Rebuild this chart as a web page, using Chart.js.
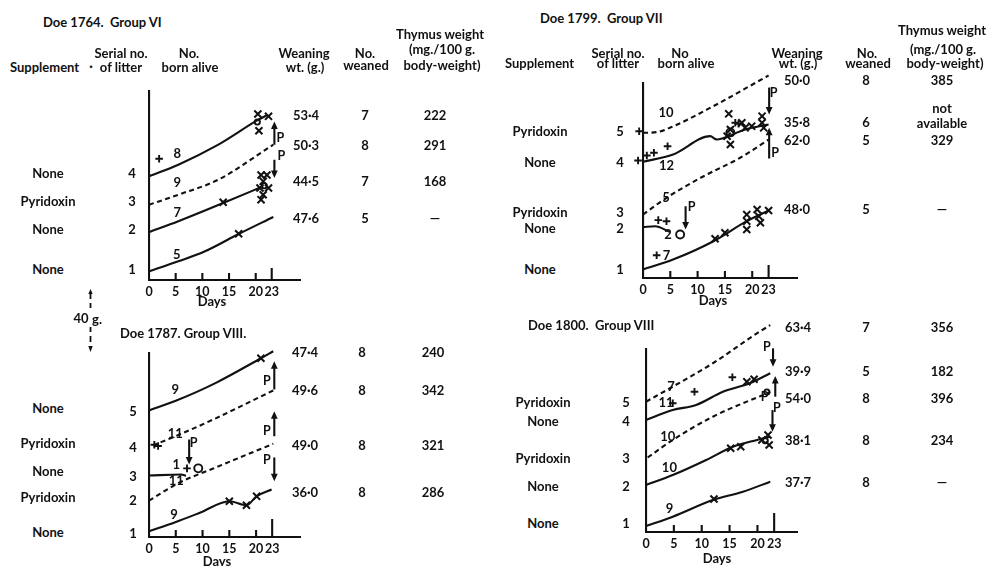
<!DOCTYPE html>
<html><head><meta charset="utf-8">
<script src="https://cdn.jsdelivr.net/npm/chart.js@4.4.1/dist/chart.umd.min.js"></script>
<style>
html,body{margin:0;padding:0;background:#fff;}
#page{position:relative;width:991px;height:566px;overflow:hidden;background:#fff;font-family:Lato,"Open Sans",sans-serif;font-weight:700;color:#111;}
.t{position:absolute;white-space:pre;font-size:13px;line-height:1;}
.c{transform:translate(-50%,-50%);text-align:center;}
.l{transform:translate(0,-50%);}
canvas{position:absolute;}
</style></head><body><div id="page"></div>
<script>
// ================= DATA =================
const xTicks = [0, 5, 10, 15, 20, 23];

// ---- Doe 1764, Group VI (litters 1..4) ----
const d1764Supp   = ['None', 'None', 'Pyridoxin', 'None'];
const d1764Serial = [1, 2, 3, 4];
const d1764Born   = [5, 7, 9, 8];
const d1764Wean   = ['47·6', '44·5', '50·3', '53·4'];
const d1764Weaned = ['5', '7', '8', '7'];
const d1764Thymus = ['—', '168', '291', '222'];
const d1764Pyr    = [false, false, true, false];
const d1764L1 = [[0,6.7],[5.5,14.4],[10.5,22.1],[16.8,35.4],[23.3,48.5]];
const d1764L2 = [[0,36.9],[5.5,45.2],[13.9,59.2],[21.4,72.1]];
const d1764L3 = [[0,57.9],[5.5,65.6],[13,77.2],[23.3,104.1]];
const d1764L4 = [[0,79.8],[5.5,88.7],[13,104.1],[20.5,123.3],[22.1,126.7]];
const d1764Cross = [[16.8,35.6],[13.9,59.8],[21,80.8],[22.1,80.8],[21.4,75.9],[20.8,70.8],[22.4,70.8],[21.4,65.6],[21,61.8],[20.4,127.7],[22.4,125.9],[20.6,114.8]];
const d1764Plus  = [[1.9,93.3]];
const d1764Circ  = [[20.3,121.5],[21.6,72.5]];
const d1764Arrows = [[23.5,104,122],[23.5,92.5,78.5]];
const d1764PLab   = [[24.6,109],[24.8,95.4]];
const d1764BornAt = [[5.2,19.2],[5.3,51.3],[5.3,74.8],[5.3,97.4]];

// ---- Doe 1787, Group VIII (litters 1..5) ----
const d1787Supp   = ['None', 'Pyridoxin', 'None', 'Pyridoxin', 'None'];
const d1787Serial = [1, 2, 3, 4, 5];
const d1787Born   = [9, 11, 1, 11, 9];
const d1787Wean   = ['36·0', '49·0', '', '49·6', '47·4'];
const d1787Weaned = ['8', '8', '', '8', '8'];
const d1787Thymus = ['286', '321', '', '342', '240'];
const d1787Pyr    = [false, true, false, true, false];
const d1787L1 = [[0,4.5],[4.9,11.4],[9.5,18.6],[15,27.5],[18.2,24.4],[20.1,31.3],[22.9,36.5]];
const d1787L2 = [[0,28],[5.7,41.9],[12,52.7],[23.2,71.7]];
const d1787L3 = [[0,47.3],[6,48.1],[6.9,47]];
const d1787L4 = [[0.7,70.4],[5.7,78.8],[12,90.4],[23.2,112.7]];
const d1787L5 = [[0,97.3],[5,104.8],[12.5,118.6],[20.9,137.5],[23.2,142.9]];
const d1787Cross = [[20.9,137.5],[15,27.5],[18.2,24.4],[20.1,31.3]];
const d1787Plus  = [[-1.2,52.8],[-1.3,70.4],[1,71],[1.7,70],[-1.3,8.3],[7.1,52.8]];
const d1787Circ  = [[9.2,52.8]];
const d1787Arrows = [[7.5,75,55.8],[23.4,113.5,135.2],[23.4,77.5,96.8],[23.4,61.2,42.9]];
const d1787PLab   = [[8.35,72.5],[22,119.8],[22,81.4],[22,59]];
const d1787BornAt = [[4.65,17.3],[5.1,42.9],[5.1,55.8],[4.9,79.6],[4.9,113.5]];

// ---- Doe 1799, Group VII (litters 1..5) ----
const d1799Supp   = ['None', 'None', 'Pyridoxin', 'None', 'Pyridoxin'];
const d1799Serial = [1, 2, 3, 4, 5];
const d1799Born   = [7, 2, 5, 12, 10];
const d1799Wean   = ['48·0', '', '62·0', '35·8', '50·0'];
const d1799Weaned = ['5', '', '5', '6', '8'];
const d1799Thymus = ['—', '', '329', 'not\navailable', '385'];
const d1799Pyr    = [false, false, true, false, true];
const d1799L1 = [[0,6.5],[5.5,14.2],[12.9,28.3],[19,43.7],[23,51.9]];
const d1799L2 = [[0,39.1],[2.2,39.8],[4.9,35.5]];
const d1799L3 = [[0,48.8],[4.3,61.7],[11.1,78.3],[17.8,92.5],[23,106.5]];
const d1799L4 = [[0,89.4],[5.5,95],[12.3,109.1],[13.5,106.5],[14.5,107.3],[18.7,114.2],[23,118.1]];
const d1799L5 = [[0,111.7],[2.5,112.2],[5.6,116.8],[12.9,132.2],[23,155.8]];
const d1799Cross = [[13.2,30.2],[15,34.8],[19,48.8],[19,43.7],[19,37.3],[20.9,52.7],[21.2,47.5],[21.5,42.5],[23,51.9],
                    [15.7,126.3],[15.4,109.1],[16,102.7],[16,114.2],[18.1,119.4],[18.7,115.5],[19.9,116.8],[21.8,124.5],[21.8,119.4],[22.1,115.5]];
const d1799Plus  = [[-1.8,112.9],[-0.7,112.9],[-2,90.4],[-0.9,90.4],[0.7,94.2],[2,96.3],[4.5,101.4],[2.8,44.5],[4.3,43.7],[2.5,17.5],[16.9,119.4],[17.5,118.6]];
const d1799Circ  = [[6.8,33.5],[16,112]];
const d1799Arrows = [[23.1,146.5,125.8],[23.1,91.9,115.5],[7.8,55.2,37.3]];
const d1799PLab   = [[23.9,142.5],[24.2,96.3],[8.9,54.8]];
const d1799BornAt = [[4.3,16.8],[4.6,33.5],[4.2,61.7],[4.3,86],[4.2,127.1]];

// ---- Doe 1800, Group VIII (litters 1..5) ----
const d1800Supp   = ['None', 'None', 'Pyridoxin', 'None', 'Pyridoxin'];
const d1800Serial = [1, 2, 3, 4, 5];
const d1800Born   = [9, 10, 10, 11, 7];
const d1800Wean   = ['37·7', '38·1', '54·0', '39·9', '63·4'];
const d1800Weaned = ['8', '8', '8', '5', '7'];
const d1800Thymus = ['—', '234', '396', '182', '356'];
const d1800Pyr    = [false, false, true, false, true];
const d1800L1 = [[0,4.6],[4.8,11.8],[12,24.6],[17.4,31],[22.3,38.7]];
const d1800L2 = [[0,36.2],[4.8,43.8],[10.8,55.4],[15.6,65.6],[19.9,70.8],[22.3,73.3]];
const d1800L3 = [[0.3,57.3],[4.8,70.8],[12,88.7],[22.3,107.7]];
const d1800L4 = [[0,86.2],[4.8,93.8],[9,97.7],[13.8,107.9],[18.6,114.4],[22.3,122.1]];
const d1800L5 = [[0,100.2],[4.8,111.8],[12,129.8],[19.9,152.8],[22.3,159.2]];
const d1800Cross = [[18.1,115.6],[19.4,117.5],[15.2,64.4],[17,65.6],[20.8,70.8],[21.9,74.6],[22.1,66.9],[12.2,25.4]];
const d1800Plus  = [[4.8,99],[8.7,107.9],[15.5,119]];
const d1800Circ  = [[21.4,70.2],[21.7,107.7]];
const d1800Arrows = [[22.8,141.3,127.2],[23.2,104.1,120],[22.7,93.8,77.2]];
const d1800PLab   = [[21.7,142.5],[23.5,95.2],[21.3,103.5]];
const d1800BornAt = [[4.2,17.5],[4.2,49],[3.9,73.3],[3.6,99],[4.5,111.3]];

// ================= LAYOUT / STYLE =================
const INK = '#111';
const PX_PER_G = 1.3;
const LW = 2.1;
const page = document.getElementById('page');
const FONT = 'Lato, "Open Sans", sans-serif';

function txt(x, y, s, cls, size){
  const d = document.createElement('div');
  d.className = 't ' + (cls || 'c');
  d.style.left = x + 'px'; d.style.top = y + 'px';
  if (size) d.style.fontSize = size + 'px';
  d.textContent = s;
  page.appendChild(d);
  return d;
}

function deco(p){
  return {
    id: 'deco',
    afterDatasetsDraw(chart){
      const {ctx, scales:{x, y}} = chart;
      ctx.save();
      ctx.strokeStyle = INK; ctx.fillStyle = INK; ctx.lineWidth = LW;
      const yb = y.getPixelForValue(0);
      xTicks.forEach(t => {
        if (t === 0) return;
        const px = x.getPixelForValue(t);
        const len = t === 23 ? p.tallTick : 7;
        ctx.beginPath(); ctx.moveTo(px, yb); ctx.lineTo(px, yb - len); ctx.stroke();
      });
      p.arrows.forEach(([d, v0, v1]) => {
        const px = x.getPixelForValue(d), a = y.getPixelForValue(v0), b = y.getPixelForValue(v1);
        const dir = b < a ? -1 : 1;
        ctx.beginPath(); ctx.moveTo(px, a); ctx.lineTo(px, b - dir * 5); ctx.stroke();
        ctx.beginPath(); ctx.moveTo(px, b); ctx.lineTo(px - 3.4, b - dir * 7.5); ctx.lineTo(px + 3.4, b - dir * 7.5); ctx.closePath(); ctx.fill();
      });
      ctx.font = 'bold 12.5px ' + FONT;
      ctx.textAlign = 'center'; ctx.textBaseline = 'middle';
      p.pLab.forEach(([d, v]) => ctx.fillText('P', x.getPixelForValue(d), y.getPixelForValue(v)));
      ctx.font = 'bold 13px ' + FONT;
      p.bornAt.forEach(([d, v], i) => ctx.fillText(String(p.born[i]), x.getPixelForValue(d), y.getPixelForValue(v)));
      ctx.restore();
    }
  };
}

const toXY = arr => arr.map(([x, y]) => ({x, y}));

function makeChart(p){
  const padL = 32, padT = 34, padR = 12, xH = 30;
  const W = p.axis.right - p.axis.left, H = p.axis.bottom - p.axis.top;
  const cw = W + padL + padR, ch = H + padT + xH;
  const cv = document.createElement('canvas');
  cv.width = cw; cv.height = ch;
  cv.style.left = (p.axis.left - padL) + 'px'; cv.style.top = (p.axis.top - padT) + 'px';
  cv.style.width = cw + 'px'; cv.style.height = ch + 'px';
  page.appendChild(cv);
  const datasets = p.curves.map((c, i) => ({
    label: 'Litter ' + (i + 1),
    data: toXY(c), borderColor: INK, borderWidth: LW,
    borderDash: p.pyr[i] ? [5, 3.5] : [], pointRadius: 0,
    cubicInterpolationMode: 'monotone', fill: false, clip: false
  }));
  datasets.push({label:'x', data: toXY(p.cross), showLine:false, pointStyle:'crossRot', pointRadius:5, pointBorderWidth:2, pointBorderColor:INK, clip:false});
  datasets.push({label:'+', data: toXY(p.plus), showLine:false, pointStyle:'cross', pointRadius:3.8, pointBorderWidth:1.9, pointBorderColor:INK, clip:false});
  datasets.push({label:'o', data: toXY(p.circ), showLine:false, pointStyle:'circle', pointRadius:p.circR, pointBorderWidth:1.9, pointBorderColor:INK, pointBackgroundColor:'rgba(0,0,0,0)', clip:false});
  new Chart(cv, {
    type: 'line',
    data: { datasets },
    options: {
      responsive: false, animation: false, events: [],
      layout: { padding: { left: padL, top: padT, right: padR, bottom: 0 } },
      plugins: { legend: { display: false }, tooltip: { enabled: false } },
      scales: {
        x: {
          type: 'linear', min: 0, max: p.xMax,
          afterBuildTicks: s => { s.ticks = xTicks.map(v => ({ value: v })); },
          afterFit: s => { s.height = xH; },
          grid: { display: false, drawTicks: false },
          border: { display: true, color: INK, width: LW },
          ticks: { autoSkip: false, maxRotation: 0, padding: 4, color: INK,
                   font: { family: FONT, weight: 'bold', size: 12.5 }, callback: v => String(v) }
        },
        y: {
          type: 'linear', min: 0, max: H / PX_PER_G,
          afterFit: s => { s.width = 0; },
          grid: { display: false, drawTicks: false },
          border: { display: true, color: INK, width: LW },
          ticks: { display: false }
        }
      }
    },
    plugins: [deco(p)]
  });
}

const panels = [
  { axis:{left:149, top:91, bottom:280, right:300}, xMax:28.3, tallTick:12,
    curves:[d1764L1, d1764L2, d1764L3, d1764L4], pyr:d1764Pyr,
    cross:d1764Cross, plus:d1764Plus, circ:d1764Circ, circR:2.6, arrows:d1764Arrows, pLab:d1764PLab, born:d1764Born, bornAt:d1764BornAt },
  { axis:{left:149, top:353, bottom:537, right:300}, xMax:28.2, tallTick:18,
    curves:[d1787L1, d1787L2, d1787L3, d1787L4, d1787L5], pyr:d1787Pyr,
    cross:d1787Cross, plus:d1787Plus, circ:d1787Circ, circR:4, arrows:d1787Arrows, pLab:d1787PLab, born:d1787Born, bornAt:d1787BornAt },
  { axis:{left:643, top:83, bottom:278, right:797}, xMax:28.2, tallTick:13,
    curves:[d1799L1, d1799L2, d1799L3, d1799L4, d1799L5], pyr:d1799Pyr,
    cross:d1799Cross, plus:d1799Plus, circ:d1799Circ, circR:4, arrows:d1799Arrows, pLab:d1799PLab, born:d1799Born, bornAt:d1799BornAt },
  { axis:{left:646, top:349, bottom:532, right:797}, xMax:27.1, tallTick:19,
    curves:[d1800L1, d1800L2, d1800L3, d1800L4, d1800L5], pyr:d1800Pyr,
    cross:d1800Cross, plus:d1800Plus, circ:d1800Circ, circR:2.6, arrows:d1800Arrows, pLab:d1800PLab, born:d1800Born, bornAt:d1800BornAt }
];
panels.forEach(makeChart);

// ---- text tables ----
function table(cols, supp, serial, wean, weaned, thymus, suppY, serialY, rowY){
  supp.forEach((s, i) => {
    txt(cols.supp, suppY[i], s);
    txt(cols.serial, serialY[i], String(serial[i]));
    if (wean[i]) {
      txt(cols.wean, rowY[i], wean[i]);
      txt(cols.weaned, rowY[i], weaned[i]);
      const multi = thymus[i].includes('\n');
      const th = txt(cols.thymus, rowY[i] - (multi ? 6 : 0), thymus[i]);
      if (multi) th.style.lineHeight = '15px';
    }
  });
}
table({supp:48, serial:132, wean:306, weaned:365, thymus:435}, d1764Supp, d1764Serial, d1764Wean, d1764Weaned, d1764Thymus,
      [269,229,201,173], [269,229,201,173], [218,181,145,115]);
table({supp:48, serial:133, wean:305, weaned:362, thymus:433}, d1787Supp, d1787Serial, d1787Wean, d1787Weaned, d1787Thymus,
      [531.7,496.7,470.7,443.3,408.3], [533.3,500,476,446.7,411], [492.3,445,0,390,351.7]);
table({supp:540, serial:620, wean:797, weaned:866, thymus:942}, d1799Supp, d1799Serial, d1799Wean, d1799Weaned, d1799Thymus,
      [269.3,227.7,212.3,162.3,130.7], [269.3,227.7,212.3,162.3,130.7], [209,0,140,121.7,80]);
table({supp:543, serial:626, wean:798, weaned:866, thymus:942}, d1800Supp, d1800Serial, d1800Wean, d1800Weaned, d1800Thymus,
      [523.3,485.7,457.7,420.7,402.3], [523.3,485.7,457.7,420.7,402.3], [481.7,440,397.7,370.7,326.7]);

// titles
txt(43, 22, 'Doe 1764.  Group VI', 'l');
txt(120, 333, 'Doe 1787. Group VIII.', 'l');
txt(540, 18, 'Doe 1799.  Group VII', 'l');
txt(528, 325, 'Doe 1800.  Group VIII', 'l');

// headers
['left', 'right'].forEach(side => {
  const L = side === 'left';
  txt(L ? 10 : 505, L ? 67 : 63, 'Supplement', 'l');
  if (L) txt(91, 66, '·');
  txt(L ? 121 : 618, 53, 'Serial no.');
  txt(L ? 121 : 618, L ? 67 : 63, 'of litter');
  txt(L ? 189 : 680, 53, L ? 'No.' : 'No');
  txt(L ? 190 : 686, L ? 67 : 63, 'born alive');
  txt(L ? 304 : 797, 53, 'Weaning');
  txt(L ? 305 : 798, L ? 67 : 63, 'wt. (g.)');
  txt(L ? 365 : 867, 53, 'No.');
  txt(L ? 366 : 868, L ? 65 : 63, 'weaned');
  txt(L ? 440 : 942, L ? 34 : 30, 'Thymus weight');
  txt(L ? 442 : 943, 49, '(mg./100 g.');
  txt(L ? 442 : 945, L ? 65 : 63, 'body-weight)');
});

// axis titles
txt(212, 301, 'Days');
txt(217, 560.5, 'Days');
txt(713, 300, 'Days');
txt(717, 558.3, 'Days');

// 40 g scale indicator
txt(81, 318, '40');
txt(97, 319, 'g.');
const svgNS = 'http://www.w3.org/2000/svg';
const svg = document.createElementNS(svgNS, 'svg');
svg.setAttribute('width', '20'); svg.setAttribute('height', '70');
svg.style.position = 'absolute'; svg.style.left = '80px'; svg.style.top = '286px';
svg.innerHTML = '<g stroke="#111" stroke-width="1.8" fill="#111">' +
  '<line x1="10.5" y1="8" x2="10.5" y2="13"/><line x1="10.5" y1="17" x2="10.5" y2="22"/>' +
  '<line x1="10.5" y1="41" x2="10.5" y2="46"/><line x1="10.5" y1="50" x2="10.5" y2="56"/>' +
  '<path d="M10.5 3 L8.3 8 L12.7 8 Z" stroke="none"/><path d="M10.5 66 L8.3 60 L12.7 60 Z" stroke="none"/></g>';
page.appendChild(svg);
</script>
</body></html>
